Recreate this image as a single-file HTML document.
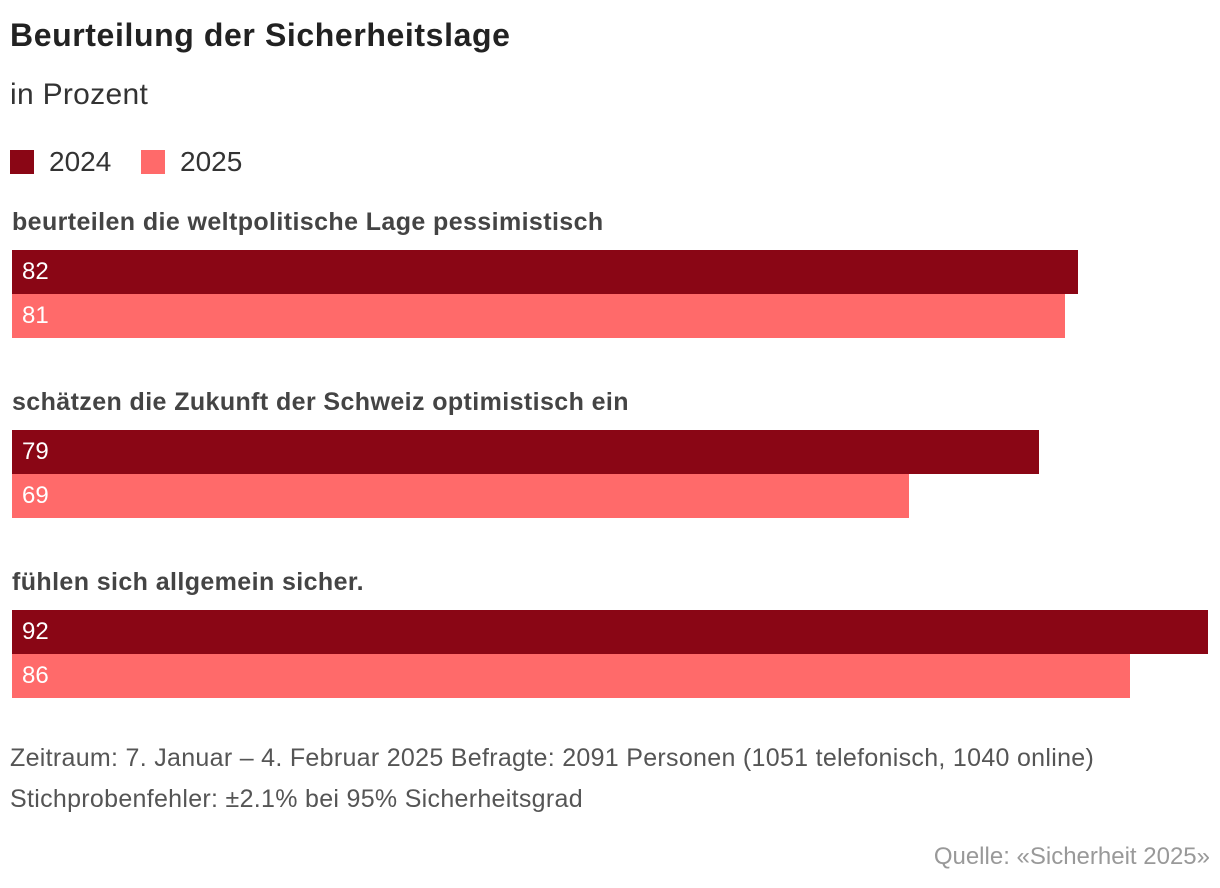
<!DOCTYPE html>
<html><head><meta charset="utf-8"><style>
body{margin:0;width:1220px;height:888px;background:#fff;font-family:"Liberation Sans",sans-serif;position:relative;overflow:hidden}
.t{position:absolute;white-space:nowrap}
</style></head><body>
<div class="t" style="left:10px;top:17px;font-size:32px;font-weight:bold;color:#222;letter-spacing:0.6px">Beurteilung der Sicherheitslage</div>
<div class="t" style="left:10px;top:78px;font-size:30px;color:#333;letter-spacing:0.3px">in Prozent</div>
<div>
<div class="t" style="left:10px;top:150px;width:24px;height:24px;background:#8a0615"></div>
<div class="t" style="left:49px;top:146px;font-size:28px;color:#333">2024</div>
<div class="t" style="left:141px;top:150px;width:24px;height:24px;background:#ff6a6a"></div>
<div class="t" style="left:180px;top:146px;font-size:28px;color:#333">2025</div>
</div>
<div id="chart"></div>
<div class="t" style="left:10px;top:738px;font-size:25px;color:#555;line-height:41px;letter-spacing:0.3px">Zeitraum: 7. Januar – 4. Februar 2025 Befragte: 2091 Personen (1051 telefonisch, 1040 online)<br>Stichprobenfehler: ±2.1% bei 95% Sicherheitsgrad</div>
<div class="t" style="right:10px;top:843px;font-size:24px;color:#999">Quelle: «Sicherheit 2025»</div>
<script>
const categories=["beurteilen die weltpolitische Lage pessimistisch","schätzen die Zukunft der Schweiz optimistisch ein","fühlen sich allgemein sicher."];
const values2024=[82,79,92];
const values2025=[81,69,86];
const chart=document.getElementById('chart');
const x0=12,scale=(1208-12)/92;
function xw(v){return v*scale;}
categories.forEach((c,i)=>{
  const top=250+i*180;
  const l=document.createElement('div');
  
  
  l.className='t';
  l.style.cssText=`left:12px;top:${top-42}px;font-size:25px;font-weight:bold;color:#444;letter-spacing:0.4px`;
  l.textContent=c;chart.appendChild(l);
  [[values2024[i],'#8a0615'],[values2025[i],'#ff6a6a']].forEach(([v,col],j)=>{
    const b=document.createElement('div');
    
    
    b.className='t';
    b.style.cssText=`left:${x0}px;top:${top+j*44}px;width:${xw(v)}px;height:44px;background:${col};color:#fff;font-size:24px;line-height:44px;box-sizing:border-box;padding-left:10px`;
    b.textContent=v;chart.appendChild(b);
  });
});
</script>
</body></html>
